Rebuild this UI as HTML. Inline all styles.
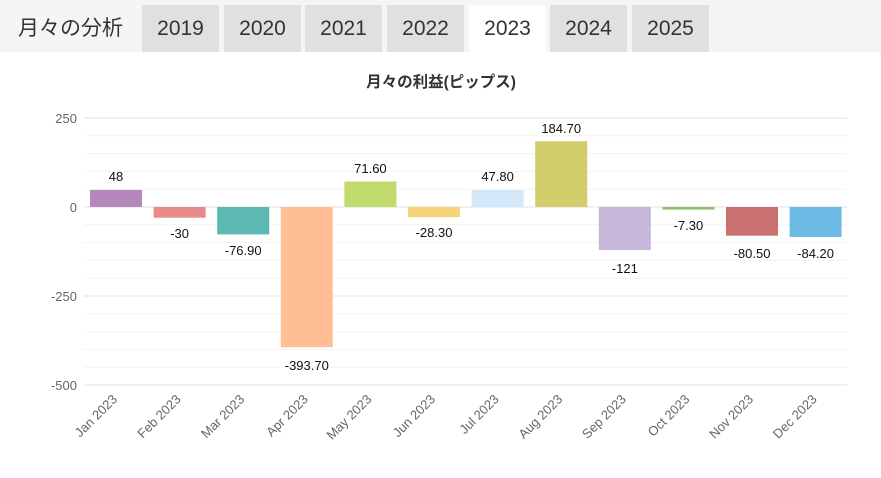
<!DOCTYPE html><html><head><meta charset="utf-8"><style>
body{margin:0;width:881px;height:478px;background:#fff;overflow:hidden;font-family:"Liberation Sans","Noto Sans CJK JP",sans-serif}
.bar{position:absolute;left:0;top:0;width:881px;height:52px;background:#f5f5f5}
.t{position:absolute;top:5px;height:47px;width:77px;background:#e0e0e0;color:#333;font-size:21px;line-height:47px;text-align:center}
.h{position:absolute;left:18px;top:5px;line-height:47px;font-size:21px;color:#333}
</style></head><body>
<div class="bar"></div>
<div class="h">月々の分析</div>
<div class="t" style="left:142px">2019</div>
<div class="t" style="left:224px">2020</div>
<div class="t" style="left:305px">2021</div>
<div class="t" style="left:387px">2022</div>
<div class="t" style="left:469px;background:#fff">2023</div>
<div class="t" style="left:550px">2024</div>
<div class="t" style="left:632px">2025</div>
<svg width="881" height="478" style="position:absolute;left:0;top:0" font-family="Liberation Sans, Noto Sans CJK JP, sans-serif">
<text x="441" y="87" text-anchor="middle" font-size="15.5" font-weight="bold" fill="#333">月々の利益(ピップス)</text>
<g stroke="#f3f3f3" stroke-width="1">
<line x1="84" x2="847" y1="135.8" y2="135.8"/><line x1="84" x2="847" y1="153.6" y2="153.6"/><line x1="84" x2="847" y1="171.4" y2="171.4"/><line x1="84" x2="847" y1="189.2" y2="189.2"/>
<line x1="84" x2="847" y1="224.8" y2="224.8"/><line x1="84" x2="847" y1="242.6" y2="242.6"/><line x1="84" x2="847" y1="260.4" y2="260.4"/><line x1="84" x2="847" y1="278.2" y2="278.2"/>
<line x1="84" x2="847" y1="313.8" y2="313.8"/><line x1="84" x2="847" y1="331.6" y2="331.6"/><line x1="84" x2="847" y1="349.4" y2="349.4"/><line x1="84" x2="847" y1="367.2" y2="367.2"/>
</g>
<g stroke="#e6e6e6" stroke-width="1.2">
<line x1="84" x2="847" y1="118" y2="118"/><line x1="84" x2="847" y1="207" y2="207"/><line x1="84" x2="847" y1="296" y2="296"/><line x1="84" x2="847" y1="385" y2="385"/>
</g>
<g font-size="13" fill="#666" text-anchor="end">
<text x="77" y="123">250</text><text x="77" y="212">0</text><text x="77" y="301">-250</text><text x="77" y="390">-500</text>
</g>
<g>
<rect x="90" y="189.9" width="52" height="17.1" fill="#b687bb"/>
<rect x="153.6" y="207" width="52" height="10.7" fill="#e88a8a"/>
<rect x="217.2" y="207" width="52" height="27.4" fill="#5bb8b2"/>
<rect x="280.8" y="207" width="52" height="140.2" fill="#ffbe94"/>
<rect x="344.4" y="181.5" width="52" height="25.5" fill="#c0da6e"/>
<rect x="408" y="207" width="52" height="10.1" fill="#f7d47a"/>
<rect x="471.6" y="190" width="52" height="17" fill="#d3e8f8"/>
<rect x="535.2" y="141.2" width="52" height="65.8" fill="#d3cc6a"/>
<rect x="598.8" y="207" width="52" height="43.1" fill="#c6b7da"/>
<rect x="662.4" y="207" width="52" height="2.6" fill="#8fbf6f"/>
<rect x="726" y="207" width="52" height="28.7" fill="#c97070"/>
<rect x="789.6" y="207" width="52" height="30" fill="#6bbbe6"/>
</g>
<g font-size="13" fill="#111" text-anchor="middle">
<text x="116" y="181">48</text>
<text x="179.6" y="238">-30</text>
<text x="243.2" y="255">-76.90</text>
<text x="306.8" y="370">-393.70</text>
<text x="370.4" y="173">71.60</text>
<text x="434" y="237">-28.30</text>
<text x="497.6" y="181">47.80</text>
<text x="561.2" y="133">184.70</text>
<text x="624.8" y="273">-121</text>
<text x="688.4" y="230">-7.30</text>
<text x="752" y="258">-80.50</text>
<text x="815.6" y="258">-84.20</text>
</g>
<g font-size="13" fill="#666" text-anchor="end">
<text transform="translate(118,400) rotate(-45)">Jan 2023</text>
<text transform="translate(181.6,400) rotate(-45)">Feb 2023</text>
<text transform="translate(245.2,400) rotate(-45)">Mar 2023</text>
<text transform="translate(308.8,400) rotate(-45)">Apr 2023</text>
<text transform="translate(372.4,400) rotate(-45)">May 2023</text>
<text transform="translate(436,400) rotate(-45)">Jun 2023</text>
<text transform="translate(499.6,400) rotate(-45)">Jul 2023</text>
<text transform="translate(563.2,400) rotate(-45)">Aug 2023</text>
<text transform="translate(626.8,400) rotate(-45)">Sep 2023</text>
<text transform="translate(690.4,400) rotate(-45)">Oct 2023</text>
<text transform="translate(754,400) rotate(-45)">Nov 2023</text>
<text transform="translate(817.6,400) rotate(-45)">Dec 2023</text>
</g>
</svg>
</body></html>
